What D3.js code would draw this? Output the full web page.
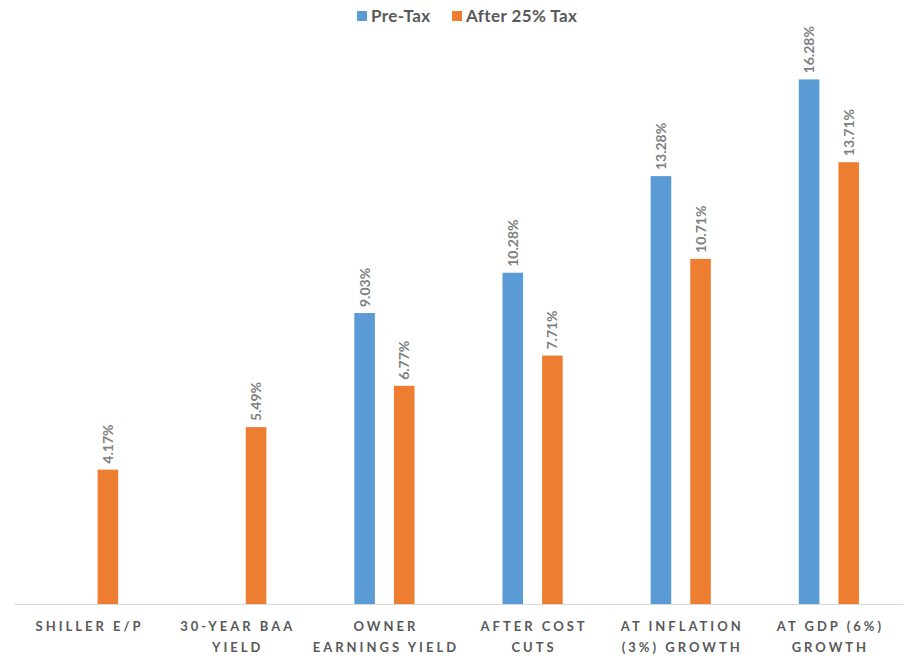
<!DOCTYPE html>
<html>
<head>
<meta charset="utf-8">
<script src="https://cdn.jsdelivr.net/npm/d3@7"></script>
<style>
  html, body { margin: 0; padding: 0; background: #fff; }
  svg { display: block; font-family: Lato, "Open Sans", sans-serif; }
</style>
</head>
<body>
<svg id="chart" width="908" height="656"></svg>
<script>
// Category labels, each split into display lines
const categories = [
  ["SHILLER E/P"],
  ["30-YEAR BAA", "YIELD"],
  ["OWNER", "EARNINGS YIELD"],
  ["AFTER COST", "CUTS"],
  ["AT INFLATION", "(3%) GROWTH"],
  ["AT GDP (6%)", "GROWTH"]
];
const seriesNames = ["Pre-Tax", "After 25% Tax"];
const preTax   = [null, null, 9.03, 10.28, 13.28, 16.28];
const afterTax = [4.17, 5.49, 6.77, 7.71, 10.71, 13.71];
const colors = ["#5B9BD5", "#ED7D31"];

const svg = d3.select("#chart");
const W = 908, H = 656;
const margin = { top: 24, right: 5, bottom: 52, left: 14 };
const plotBottom = H - margin.bottom;

const x0 = d3.scaleBand()
  .domain(d3.range(categories.length))
  .range([margin.left, W - margin.right])
  .paddingInner(0).paddingOuter(0);

const x1 = d3.scaleBand()
  .domain([0, 1])
  .range([0, x0.bandwidth()])
  .paddingInner(0.48).paddingOuter(1.11);

const y = d3.scaleLinear().domain([0, 18]).range([plotBottom, margin.top]);

const series = [preTax, afterTax];

// Bars and rotated value labels
series.forEach((vals, si) => {
  const g = svg.append("g");
  vals.forEach((v, ci) => {
    if (v == null) return;
    const bx = x0(ci) + x1(si);
    g.append("rect")
      .attr("x", bx)
      .attr("y", y(v))
      .attr("width", x1.bandwidth())
      .attr("height", y(0) - y(v))
      .attr("fill", colors[si]);
    const cx = bx + x1.bandwidth() / 2;
    g.append("text")
      .attr("transform", `translate(${cx + 5},${y(v) - 6}) rotate(-90)`)
      .attr("text-anchor", "start")
      .attr("font-size", 14)
      .attr("font-weight", 700)
      .attr("fill", "#7f7f7f")
      .text(v.toFixed(2) + "%");
  });
});

// Baseline axis
const xAxis = svg.append("g")
  .attr("transform", `translate(0,${plotBottom})`)
  .call(d3.axisBottom(x0).tickSize(0).tickFormat(""));
xAxis.select(".domain").attr("stroke", "#d9d9d9").attr("stroke-width", 1);

// Category labels
const labels = svg.append("g");
categories.forEach((lines, ci) => {
  const cx = x0(ci) + x0.bandwidth() / 2;
  const t = labels.append("text")
    .attr("x", cx)
    .attr("y", 631)
    .attr("text-anchor", "middle")
    .attr("font-size", 13)
    .attr("font-weight", 700)
    .attr("letter-spacing", "3px")
    .attr("fill", "#595959");
  lines.forEach((ln, li) => {
    t.append("tspan")
      .attr("x", cx + 1.5)
      .attr("dy", li === 0 ? 0 : 21)
      .text(ln);
  });
});

// Legend
const legend = svg.append("g");
const legendItems = [
  { name: seriesNames[0], x: 357 },
  { name: seriesNames[1], x: 452 }
];
legendItems.forEach((d, i) => {
  legend.append("rect")
    .attr("x", d.x).attr("y", 11)
    .attr("width", 10).attr("height", 10)
    .attr("fill", colors[i]);
  legend.append("text")
    .attr("x", d.x + 14).attr("y", 22)
    .attr("font-size", 17)
    .attr("font-weight", 700)
    .attr("letter-spacing", "0.4px")
    .attr("fill", "#595959")
    .text(d.name);
});
</script>
</body>
</html>
